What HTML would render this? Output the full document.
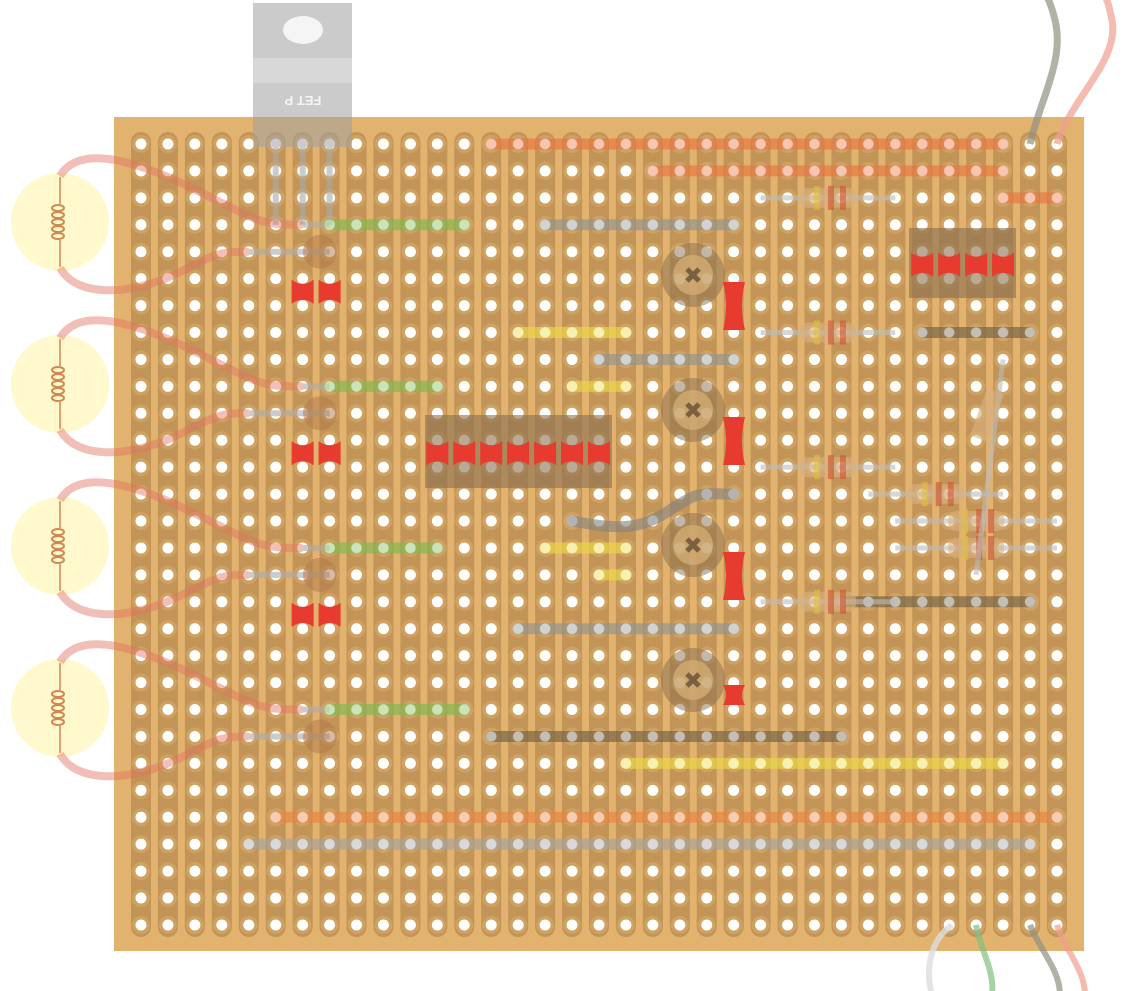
<!DOCTYPE html>
<html><head><meta charset="utf-8"><style>
html,body{margin:0;padding:0;background:#fff;width:1126px;height:991px;overflow:hidden}
svg{display:block}
</style></head><body>
<svg id="s" width="1126" height="991" viewBox="0 0 1126 991" xmlns="http://www.w3.org/2000/svg">
<rect x="114" y="117" width="970" height="834" fill="#e2b26f"/>
<g id="strips"></g>
<g id="holes"></g>
<g id="parts"></g>
</svg>
<script>
const NS="http://www.w3.org/2000/svg";
const X=i=>141+26.94*i, Y=j=>144+26.93*j;
function el(p,tag,a){const e=document.createElementNS(NS,tag);for(const k in a)e.setAttribute(k,a[k]);p.appendChild(e);return e;}
const S=document.getElementById('strips'),H=document.getElementById('holes'),P=document.getElementById('parts');
for(let i=0;i<35;i++){el(S,'rect',{x:X(i)-10,y:132,width:20,height:805,rx:10,fill:'#c29457'});}
for(let i=0;i<35;i++)for(let j=0;j<30;j++){el(H,'circle',{cx:X(i),cy:Y(j),r:9,fill:'#cfa262'});el(H,'circle',{cx:X(i),cy:Y(j),r:5.5,fill:'#fff'});}
function wire(i1,i2,j,col,w,op){el(P,'line',{x1:X(i1),y1:Y(j),x2:X(i2),y2:Y(j),stroke:col,'stroke-width':w||11,'stroke-linecap':'round',opacity:op||0.6});
 for(let i=i1;i<=i2;i++)el(P,'circle',{cx:X(i),cy:Y(j),r:5,fill:'#fff',opacity:0.35});}
function bow(x,y){el(P,'path',{d:`M${x-11},${y-12} Q${x},${y-4} ${x+11},${y-12} L${x+11},${y+12} Q${x},${y+4} ${x-11},${y+12} Z`,fill:'#e63b2e'});}
function vbow(x,y,h){el(P,'path',{d:`M${x-11},${y-h} L${x+11},${y-h} Q${x+5},${y} ${x+11},${y+h} L${x-11},${y+h} Q${x-5},${y} ${x-11},${y-h} Z`,fill:'#e63b2e'});}
// FET
el(P,'rect',{x:253,y:3,width:99,height:144,fill:'#a0a0a0',opacity:0.55});
el(P,'rect',{x:253,y:58,width:99,height:25,fill:'#fff',opacity:0.25});
el(P,'ellipse',{cx:303,cy:30,rx:20,ry:14,fill:'#fff',opacity:0.8});
el(P,'text',{x:303,y:104,'font-family':'Liberation Sans, sans-serif','font-size':13,'font-weight':'bold',fill:'#fff','text-anchor':'middle',opacity:0.8,transform:'rotate(180 303 100)'}).textContent='FET P';
for(const i of[5,6,7])el(P,'line',{x1:X(i),y1:147,x2:X(i),y2:Y(3),stroke:'#aaa','stroke-width':6,opacity:0.6});
// lamps
[222,384,546,708].forEach((cy,k)=>{
 el(P,'circle',{cx:60,cy:cy,r:49,fill:'#fff8c8',opacity:0.9});
 el(P,'path',{d:`M60,${cy-45} L60,${cy-18} M60,${cy+18} L60,${cy+45}`,stroke:'#e0a070','stroke-width':2,fill:'none'});
 for(let t=0;t<5;t++)el(P,'ellipse',{cx:58,cy:cy-14+t*7,rx:6,ry:3,fill:'none',stroke:'#d08850','stroke-width':2});
 const jt=3+6*k, jb=4+6*k;
 el(P,'path',{d:`M60,${cy-46} C80,${cy-80} 140,${cy-60} 200,${cy-30} S260,${Y(jt)} ${X(6)},${Y(jt)}`,stroke:'#e07060','stroke-width':8,fill:'none',opacity:0.45});
 el(P,'path',{d:`M60,${cy+46} C80,${cy+80} 140,${cy+70} 180,${cy+50} S220,${Y(jb)} ${X(4)},${Y(jb)}`,stroke:'#e07060','stroke-width':8,fill:'none',opacity:0.45});
 el(P,'line',{x1:X(4),y1:Y(jb),x2:X(7),y2:Y(jb),stroke:'#aaa','stroke-width':6,opacity:0.6});
 el(P,'line',{x1:X(6),y1:Y(jt),x2:X(7),y2:Y(jt),stroke:'#aaa','stroke-width':6,opacity:0.6});
 el(P,'circle',{cx:320,cy:Y(jb),r:17,fill:'#b07848',opacity:0.5});
 if(k<3){bow(X(6),Y(jb)+40);bow(X(7),Y(jb)+40);}
});
// green wires
wire(7,12,3,'#7ab84e');wire(7,11,9,'#7ab84e');wire(7,11,15,'#7ab84e');wire(7,12,21,'#7ab84e');
// orange
wire(13,32,0,'#e8703c');wire(19,32,1,'#e8703c');wire(32,34,2,'#e8703c');wire(5,34,25,'#e8803c');
// grey
wire(15,22,3,'#8a9090');wire(17,22,8,'#8a9090');wire(14,22,18,'#8a9090');wire(4,33,26,'#a0a0a0');
// dark
wire(13,26,22,'#6a5a40');wire(26,33,17,'#6a5a40');wire(29,33,7,'#6a5a40');
// yellow
wire(14,18,7,'#ecdc40');wire(16,18,9,'#ecdc40');wire(15,18,15,'#ecdc40');wire(17,18,16,'#ecdc40');wire(18,32,23,'#ecdc40');
el(P,'path',{d:`M${X(16)},${Y(14)} C620,530 640,530 670,510 S700,${Y(13)} ${X(22)},${Y(13)}`,stroke:'#808080','stroke-width':11,fill:'none','stroke-linecap':'round',opacity:0.6});
// IC
el(P,'rect',{x:425,y:415,width:187,height:73,fill:'#8a7050',opacity:0.6});
for(let i=0;i<7;i++)bow(X(11)+i*26.94,Y(11)+13);
el(P,'rect',{x:909,y:228,width:107,height:70,fill:'#8a7050',opacity:0.6});
for(let i=0;i<4;i++)bow(X(29)+i*26.94,Y(4)+13);
// pots
[275,410,545,680].forEach(cy=>{el(P,'circle',{cx:693,cy:cy,r:32,fill:'#8a7050',opacity:0.5});el(P,'circle',{cx:693,cy:cy,r:20,fill:'#d8b078',opacity:0.7});
 el(P,'path',{d:`M687,${cy-6} L699,${cy+6} M699,${cy-6} L687,${cy+6}`,stroke:'#7a6040','stroke-width':5});});
vbow(734,306,24);vbow(734,441,24);vbow(734,576,24);vbow(734,695,10);
// resistors
function res(x1,x2,y){el(P,'line',{x1:x1,y1:y,x2:x2,y2:y,stroke:'#bbb','stroke-width':5,opacity:0.6});
 el(P,'rect',{x:(x1+x2)/2-28,y:y-10,width:56,height:20,rx:8,fill:'#d8b080',opacity:0.6});
 [[-14,'#e0c040'],[0,'#d05030'],[12,'#d05030']].forEach(([d,c])=>el(P,'rect',{x:(x1+x2)/2+d,y:y-12,width:6,height:24,fill:c,opacity:0.6}));}
res(X(23),X(28),Y(2));res(X(23),X(28),Y(7));res(X(23),X(28),Y(12));res(X(23),X(28),Y(17));
res(X(27),X(32),Y(13));res(X(28),X(34),Y(14));res(X(28),X(34),Y(15));
el(P,'line',{x1:X(31),y1:Y(16),x2:X(32),y2:Y(8),stroke:'#bbb','stroke-width':5,opacity:0.6});
el(P,'rect',{x:978,y:390,width:18,height:50,fill:'#d8b080',opacity:0.6,transform:'rotate(20 987 415)'});
// external wires
el(P,'path',{d:`M${X(33)},${Y(0)} C1040,100 1065,60 1055,20 S1040,0 1040,-5`,stroke:'#909080','stroke-width':7,fill:'none',opacity:0.7});
el(P,'path',{d:`M${X(34)},${Y(0)} C1070,100 1120,60 1112,20 S1100,0 1100,-5`,stroke:'#f0a090','stroke-width':7,fill:'none',opacity:0.7});
el(P,'path',{d:`M${X(31)},${Y(29)} C980,950 995,970 992,995`,stroke:'#80c080','stroke-width':6,fill:'none',opacity:0.7});
el(P,'path',{d:`M${X(33)},${Y(29)} C1040,950 1060,970 1060,995`,stroke:'#909080','stroke-width':6,fill:'none',opacity:0.7});
el(P,'path',{d:`M${X(34)},${Y(29)} C1065,950 1085,970 1085,995`,stroke:'#f0a090','stroke-width':6,fill:'none',opacity:0.7});
el(P,'path',{d:`M952,925 C930,940 925,970 932,995`,stroke:'#ddd','stroke-width':6,fill:'none',opacity:0.8});
</script>
</body></html>
